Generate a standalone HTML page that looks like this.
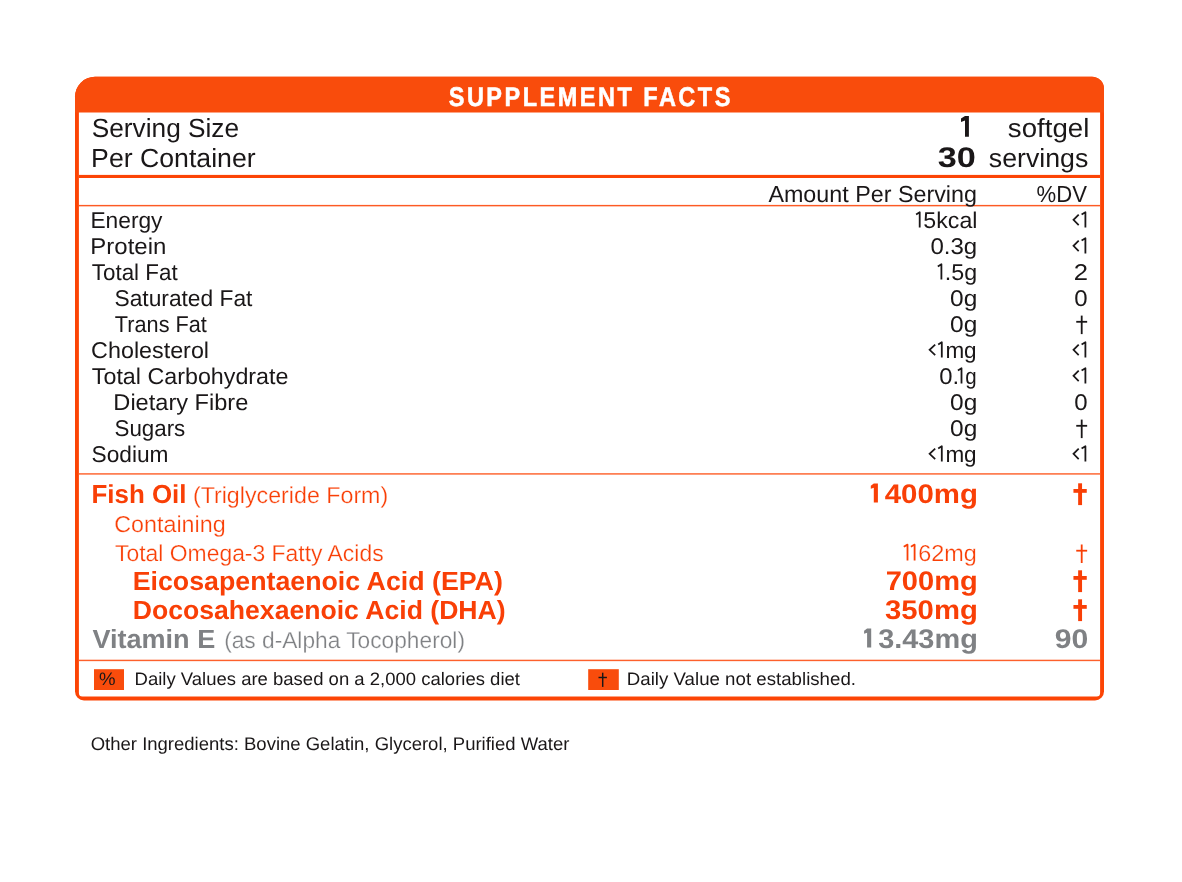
<!DOCTYPE html>
<html><head><meta charset="utf-8"><title>Supplement Facts</title>
<style>
html,body{margin:0;padding:0;background:#FFFFFF;overflow:hidden;width:1182px;height:882px;}
svg{display:block;font-family:"Liberation Sans",sans-serif;text-rendering:geometricPrecision;will-change:transform;}
</style></head><body>
<svg width="1182" height="882" viewBox="0 0 1182 882">
<rect x="0" y="0" width="1182" height="882" fill="#FFFFFF"/>
<path d="M95.0,76.8 H1092.0 A12,12 0 0 1 1104.0,88.8 V691.5 A9,9 0 0 1 1095.0,700.5 H84.0 A9,9 0 0 1 75.0,691.5 V96.8 A20,20 0 0 1 95.0,76.8 Z" fill="#FC4405"/>
<path d="M95.0,76.8 H1092.0 A12,12 0 0 1 1104.0,88.8 V112.49 A0.01,0.01 0 0 1 1103.99,112.5 H75.01 A0.01,0.01 0 0 1 75.0,112.49 V96.8 A20,20 0 0 1 95.0,76.8 Z" fill="#F94C0C"/>
<path d="M78.91000000000001,112.5 H1100.09 A0.01,0.01 0 0 1 1100.1,112.51 V693.1 A3.5,3.5 0 0 1 1096.6,696.6 H82.4 A3.5,3.5 0 0 1 78.9,693.1 V112.51 A0.01,0.01 0 0 1 78.91000000000001,112.5 Z" fill="#FFFFFF"/>
<rect x="78.9" y="174.9" width="1021.2" height="3.1" fill="#FC4405"/>
<rect x="78.9" y="204.9" width="1021.2" height="1.45" fill="#FD5A24"/>
<rect x="78.9" y="473.1" width="1021.2" height="1.6" fill="#FE7242"/>
<rect x="78.9" y="659.7" width="1021.2" height="1.45" fill="#FD602C"/>
<rect x="94" y="669.2" width="30" height="20.8" fill="#F94C0C"/>
<rect x="588.2" y="669.2" width="30.6" height="20.8" fill="#F94C0C"/>
<text transform="translate(448.73,105.60) scale(0.87,1)" x="0" y="0" font-size="27.02" font-weight="bold" fill="#FFFFFF" stroke="#FFFFFF" stroke-width="0.550" letter-spacing="2.868">SUPPLEMENT FACTS</text>
<text x="91.78" y="136.70" font-size="26.31" fill="#1A1718" textLength="147.28" lengthAdjust="spacingAndGlyphs">Serving Size</text>
<text x="91.12" y="166.60" font-size="26.31" fill="#1A1718" textLength="164.51" lengthAdjust="spacingAndGlyphs">Per Container</text>
<text x="937.76" y="166.80" font-size="28.44" font-weight="bold" fill="#1A1718" textLength="38.12" lengthAdjust="spacingAndGlyphs">30</text>
<text x="1007.87" y="136.70" font-size="26.31" fill="#1A1718" textLength="81.45" lengthAdjust="spacingAndGlyphs">softgel</text>
<text x="988.88" y="166.60" font-size="26.31" fill="#1A1718" textLength="99.45" lengthAdjust="spacingAndGlyphs">servings</text>
<text x="768.40" y="201.50" font-size="23.18" fill="#1A1718" textLength="208.51" lengthAdjust="spacingAndGlyphs">Amount Per Serving</text>
<text x="1036.51" y="201.50" font-size="23.18" fill="#1A1718" textLength="50.38" lengthAdjust="spacingAndGlyphs">%DV</text>
<text x="90.42" y="227.60" font-size="22.76" fill="#1A1718" textLength="72.08" lengthAdjust="spacingAndGlyphs">Energy</text>
<text x="90.33" y="253.60" font-size="22.76" fill="#1A1718" textLength="76.02" lengthAdjust="spacingAndGlyphs">Protein</text>
<text x="91.85" y="279.60" font-size="22.76" fill="#1A1718" textLength="85.77" lengthAdjust="spacingAndGlyphs">Total Fat</text>
<text x="114.49" y="305.60" font-size="22.76" fill="#1A1718" textLength="137.93" lengthAdjust="spacingAndGlyphs">Saturated Fat</text>
<text x="114.86" y="331.60" font-size="22.76" fill="#1A1718" textLength="91.96" lengthAdjust="spacingAndGlyphs">Trans Fat</text>
<text x="91.11" y="357.60" font-size="22.76" fill="#1A1718" textLength="117.93" lengthAdjust="spacingAndGlyphs">Cholesterol</text>
<text x="91.84" y="383.60" font-size="22.76" fill="#1A1718" textLength="196.61" lengthAdjust="spacingAndGlyphs">Total Carbohydrate</text>
<text x="113.36" y="409.60" font-size="22.76" fill="#1A1718" textLength="134.90" lengthAdjust="spacingAndGlyphs">Dietary Fibre</text>
<text x="114.50" y="435.60" font-size="22.76" fill="#1A1718" textLength="70.80" lengthAdjust="spacingAndGlyphs">Sugars</text>
<text x="91.49" y="461.60" font-size="22.76" fill="#1A1718" textLength="76.98" lengthAdjust="spacingAndGlyphs">Sodium</text>
<text x="923.38" y="227.60" font-size="22.76" fill="#1A1718" textLength="54.05" lengthAdjust="spacingAndGlyphs">5kcal</text>
<text x="930.45" y="253.60" font-size="22.76" fill="#1A1718" textLength="46.80" lengthAdjust="spacingAndGlyphs">0.3g</text>
<text x="944.88" y="279.60" font-size="22.76" fill="#1A1718" textLength="32.32" lengthAdjust="spacingAndGlyphs">.5g</text>
<text x="950.03" y="305.60" font-size="22.76" fill="#1A1718" textLength="27.24" lengthAdjust="spacingAndGlyphs">0g</text>
<text x="950.03" y="331.60" font-size="22.76" fill="#1A1718" textLength="27.24" lengthAdjust="spacingAndGlyphs">0g</text>
<text x="945.39" y="357.60" font-size="22.76" fill="#1A1718" textLength="31.27" lengthAdjust="spacingAndGlyphs">mg</text>
<text x="945.39" y="461.60" font-size="22.76" fill="#1A1718" textLength="31.27" lengthAdjust="spacingAndGlyphs">mg</text>
<text x="939.15" y="383.60" font-size="22.76" fill="#1A1718" textLength="19.90" lengthAdjust="spacingAndGlyphs">0.</text>
<text x="965.36" y="383.60" font-size="22.76" fill="#1A1718" textLength="11.39" lengthAdjust="spacingAndGlyphs">g</text>
<text x="950.03" y="409.60" font-size="22.76" fill="#1A1718" textLength="27.24" lengthAdjust="spacingAndGlyphs">0g</text>
<text x="950.03" y="435.60" font-size="22.76" fill="#1A1718" textLength="27.24" lengthAdjust="spacingAndGlyphs">0g</text>
<text x="1073.80" y="279.60" font-size="22.76" fill="#1A1718" textLength="14.24" lengthAdjust="spacingAndGlyphs">2</text>
<text x="1074.25" y="305.60" font-size="22.76" fill="#1A1718" textLength="13.35" lengthAdjust="spacingAndGlyphs">0</text>
<text x="1074.25" y="409.60" font-size="22.76" fill="#1A1718" textLength="13.35" lengthAdjust="spacingAndGlyphs">0</text>
<text x="91.48" y="502.50" font-size="26.03" font-weight="bold" fill="#F93F06" textLength="95.05" lengthAdjust="spacingAndGlyphs">Fish Oil</text>
<text x="192.91" y="502.50" font-size="23.04" fill="#F93F06" stroke="#FFFFFF" stroke-width="0.250" textLength="195.29" lengthAdjust="spacingAndGlyphs">(Triglyceride Form)</text>
<text x="884.70" y="502.50" font-size="27.02" font-weight="bold" fill="#F93F06" textLength="93.18" lengthAdjust="spacingAndGlyphs">400mg</text>
<text x="114.31" y="531.50" font-size="23.04" fill="#F93F06" stroke="#FFFFFF" stroke-width="0.250" textLength="111.30" lengthAdjust="spacingAndGlyphs">Containing</text>
<text x="115.04" y="560.50" font-size="23.04" fill="#F93F06" stroke="#FFFFFF" stroke-width="0.250" textLength="268.57" lengthAdjust="spacingAndGlyphs">Total Omega-3 Fatty Acids</text>
<text x="918.20" y="560.50" font-size="23.04" fill="#F93F06" stroke="#FFFFFF" stroke-width="0.250" textLength="58.51" lengthAdjust="spacingAndGlyphs">62mg</text>
<text x="132.73" y="589.50" font-size="26.31" font-weight="bold" fill="#F93F06" textLength="370.13" lengthAdjust="spacingAndGlyphs">Eicosapentaenoic Acid (EPA)</text>
<text x="885.69" y="589.50" font-size="27.02" font-weight="bold" fill="#F93F06" textLength="92.17" lengthAdjust="spacingAndGlyphs">700mg</text>
<text x="132.74" y="618.50" font-size="26.31" font-weight="bold" fill="#F93F06" textLength="372.92" lengthAdjust="spacingAndGlyphs">Docosahexaenoic Acid (DHA)</text>
<text x="885.04" y="618.50" font-size="27.02" font-weight="bold" fill="#F93F06" textLength="92.83" lengthAdjust="spacingAndGlyphs">350mg</text>
<text x="92.40" y="647.50" font-size="26.31" font-weight="bold" fill="#7F8184" textLength="122.81" lengthAdjust="spacingAndGlyphs">Vitamin E</text>
<text x="224.14" y="647.50" font-size="23.04" fill="#7F8184" stroke="#FFFFFF" stroke-width="0.250" textLength="240.84" lengthAdjust="spacingAndGlyphs">(as d-Alpha Tocopherol)</text>
<text x="878.15" y="647.50" font-size="27.02" font-weight="bold" fill="#7F8184" textLength="99.70" lengthAdjust="spacingAndGlyphs">3.43mg</text>
<text x="1054.66" y="647.50" font-size="27.02" font-weight="bold" fill="#7F8184" textLength="33.57" lengthAdjust="spacingAndGlyphs">90</text>
<text x="99.02" y="685.30" font-size="18.06" fill="#1A1718" textLength="16.54" lengthAdjust="spacingAndGlyphs">%</text>
<text x="134.55" y="685.30" font-size="18.06" fill="#1A1718" textLength="385.38" lengthAdjust="spacingAndGlyphs">Daily Values are based on a 2,000 calories diet</text>
<text x="626.84" y="685.30" font-size="18.06" fill="#1A1718" textLength="229.15" lengthAdjust="spacingAndGlyphs">Daily Value not established.</text>
<text x="90.73" y="749.50" font-size="18.35" fill="#1A1718" textLength="478.66" lengthAdjust="spacingAndGlyphs">Other Ingredients: Bovine Gelatin, Glycerol, Purified Water</text>
<polygon points="961.00,118.60 965.00,116.10 968.90,116.10 968.90,136.80 965.00,136.80 965.00,120.59 961.00,121.90" fill="#1A1718"/>
<path d="M916.10,214.50 L919.70,212.30 V227.60" fill="none" stroke="#1A1718" stroke-width="1.8" stroke-linejoin="round"/>
<path d="M937.80,266.50 L941.40,264.30 V279.60" fill="none" stroke="#1A1718" stroke-width="1.8" stroke-linejoin="round"/>
<path d="M935.20,344.60 L929.60,349.85 L935.20,355.10" fill="none" stroke="#1A1718" stroke-width="1.75" stroke-linejoin="miter"/>
<path d="M938.20,344.50 L941.80,342.30 V357.60" fill="none" stroke="#1A1718" stroke-width="1.8" stroke-linejoin="round"/>
<path d="M935.20,448.60 L929.60,453.85 L935.20,459.10" fill="none" stroke="#1A1718" stroke-width="1.75" stroke-linejoin="miter"/>
<path d="M938.20,448.50 L941.80,446.30 V461.60" fill="none" stroke="#1A1718" stroke-width="1.8" stroke-linejoin="round"/>
<path d="M957.90,370.50 L961.50,368.30 V383.60" fill="none" stroke="#1A1718" stroke-width="1.8" stroke-linejoin="round"/>
<path d="M1078.70,214.60 L1073.50,219.85 L1078.70,225.10" fill="none" stroke="#1A1718" stroke-width="1.75" stroke-linejoin="miter"/>
<path d="M1081.60,214.50 L1085.40,212.30 V227.60" fill="none" stroke="#1A1718" stroke-width="1.8" stroke-linejoin="round"/>
<path d="M1078.70,240.60 L1073.50,245.85 L1078.70,251.10" fill="none" stroke="#1A1718" stroke-width="1.75" stroke-linejoin="miter"/>
<path d="M1081.60,240.50 L1085.40,238.30 V253.60" fill="none" stroke="#1A1718" stroke-width="1.8" stroke-linejoin="round"/>
<path d="M1078.70,344.60 L1073.50,349.85 L1078.70,355.10" fill="none" stroke="#1A1718" stroke-width="1.75" stroke-linejoin="miter"/>
<path d="M1081.60,344.50 L1085.40,342.30 V357.60" fill="none" stroke="#1A1718" stroke-width="1.8" stroke-linejoin="round"/>
<path d="M1078.70,370.60 L1073.50,375.85 L1078.70,381.10" fill="none" stroke="#1A1718" stroke-width="1.75" stroke-linejoin="miter"/>
<path d="M1081.60,370.50 L1085.40,368.30 V383.60" fill="none" stroke="#1A1718" stroke-width="1.8" stroke-linejoin="round"/>
<path d="M1078.70,448.60 L1073.50,453.85 L1078.70,459.10" fill="none" stroke="#1A1718" stroke-width="1.75" stroke-linejoin="miter"/>
<path d="M1081.60,448.50 L1085.40,446.30 V461.60" fill="none" stroke="#1A1718" stroke-width="1.8" stroke-linejoin="round"/>
<rect x="1080.80" y="315.60" width="1.80" height="18.50" fill="#1A1718"/>
<rect x="1076.25" y="320.90" width="10.90" height="1.80" fill="#1A1718"/>
<rect x="1080.80" y="419.60" width="1.80" height="18.50" fill="#1A1718"/>
<rect x="1076.25" y="424.90" width="10.90" height="1.80" fill="#1A1718"/>
<polygon points="870.80,485.84 873.80,483.55 877.90,483.55 877.90,502.50 873.80,502.50 873.80,487.66 870.80,488.86" fill="#F93F06"/>
<rect x="1078.15" y="483.30" width="3.90" height="21.80" fill="#F93F06"/>
<rect x="1073.45" y="489.00" width="13.30" height="3.80" fill="#F93F06"/>
<path d="M903.75,546.80 L907.50,544.60 V560.50" fill="none" stroke="#F93F06" stroke-width="1.8" stroke-linejoin="round"/>
<path d="M910.90,546.80 L914.60,544.60 V560.50" fill="none" stroke="#F93F06" stroke-width="1.8" stroke-linejoin="round"/>
<rect x="1080.80" y="544.50" width="1.80" height="18.50" fill="#F93F06"/>
<rect x="1076.25" y="549.80" width="10.90" height="1.80" fill="#F93F06"/>
<rect x="1078.15" y="570.30" width="3.90" height="21.80" fill="#F93F06"/>
<rect x="1073.45" y="576.00" width="13.30" height="3.80" fill="#F93F06"/>
<rect x="1078.15" y="599.30" width="3.90" height="21.80" fill="#F93F06"/>
<rect x="1073.45" y="605.00" width="13.30" height="3.80" fill="#F93F06"/>
<polygon points="864.10,630.84 867.10,628.55 871.20,628.55 871.20,647.50 867.10,647.50 867.10,632.66 864.10,633.86" fill="#7F8184"/>
<rect x="601.98" y="672.70" width="1.45" height="14.20" fill="#1A1718"/>
<rect x="598.50" y="676.77" width="8.40" height="1.45" fill="#1A1718"/>
</svg>
</body></html>
